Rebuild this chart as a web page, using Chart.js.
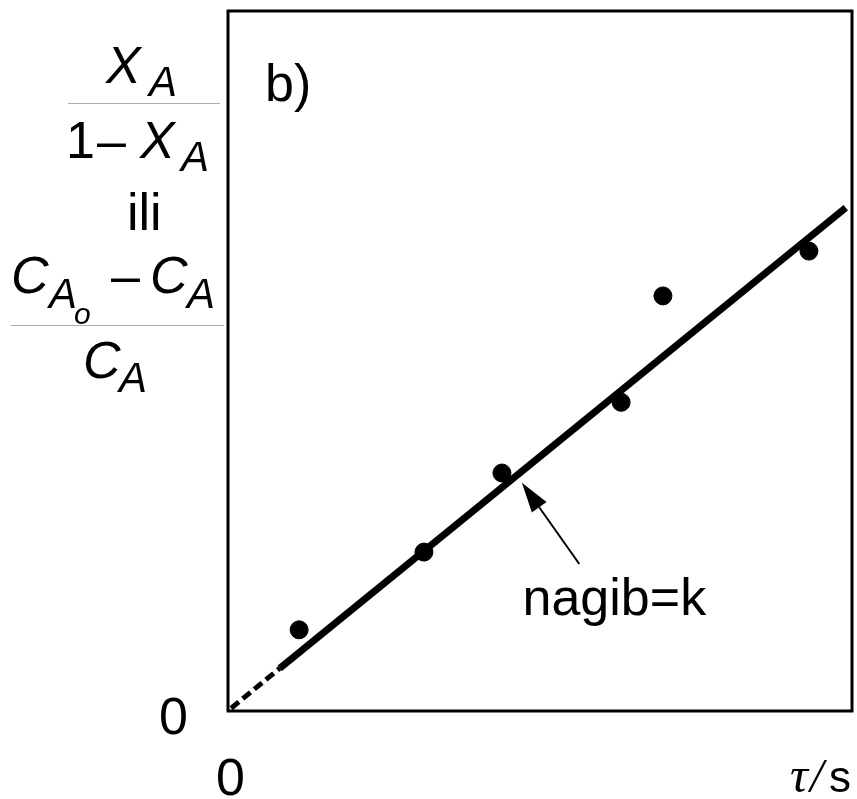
<!DOCTYPE html>
<html>
<head>
<meta charset="utf-8">
<script src="https://cdn.jsdelivr.net/npm/chart.js@4.4.1/dist/chart.umd.min.js"></script>
<style>
  html, body { margin: 0; padding: 0; background: #fff; overflow: hidden; }
  canvas { display: block; }
</style>
</head>
<body>
<canvas id="fitChart" width="857" height="799"></canvas>
<script>
  // measured points (tau, conversion function)
  const pointX = [1.14, 3.14, 4.39, 6.30, 6.97, 9.31];
  const pointY = [1.16, 2.27, 3.40, 4.41, 5.93, 6.57];

  // fitted line: dashed extrapolation to origin, solid over the data
  const dashX = [0.05, 0.83];
  const dashY = [0.04, 0.61];
  const fitX = [0.83, 9.90];
  const fitY = [0.61, 7.19];

  const SANS = '"Liberation Sans", Arial, sans-serif';
  const SERIF = '"Liberation Serif", "Times New Roman", serif';

  const toXY = (xs, ys) => xs.map((x, i) => ({ x, y: ys[i] }));

  function put(ctx, text, x, y, font) {
    ctx.font = font;
    ctx.fillText(text, x, y);
  }

  const labelsPlugin = {
    id: 'labels',
    afterDraw(chart) {
      const { ctx, chartArea: a, scales } = chart;
      ctx.save();

      // frame
      ctx.strokeStyle = '#000';
      ctx.lineWidth = 3;
      ctx.strokeRect(a.left, a.top, a.right - a.left, a.bottom - a.top);

      ctx.fillStyle = '#000';
      ctx.textBaseline = 'alphabetic';
      ctx.textAlign = 'left';

      const big = '52px ' + SANS;
      const bigI = 'italic 52px ' + SANS;
      const subI = 'italic 42px ' + SANS;
      const subsubI = 'italic 30px ' + SANS;

      // y-axis title, stacked fraction
      put(ctx, 'X', 106, 83, bigI);
      put(ctx, 'A', 149, 96, subI);
      put(ctx, '1', 66, 158, big);
      put(ctx, '\u2013', 97, 158, big);
      put(ctx, 'X', 140, 158, bigI);
      put(ctx, 'A', 181, 171, subI);
      put(ctx, 'ili', 127, 230, big);
      put(ctx, 'C', 11, 293, bigI);
      put(ctx, 'A', 49, 308, subI);
      put(ctx, 'o', 74, 324, subsubI);
      put(ctx, '\u2013', 111, 293, big);
      put(ctx, 'C', 150, 293, bigI);
      put(ctx, 'A', 187, 308, subI);
      put(ctx, 'C', 83, 378, bigI);
      put(ctx, 'A', 119, 392, subI);

      ctx.strokeStyle = '#aaa';
      ctx.lineWidth = 1;
      ctx.beginPath();
      ctx.moveTo(68, 103.5); ctx.lineTo(220, 103.5);
      ctx.moveTo(11, 325.5); ctx.lineTo(224, 325.5);
      ctx.stroke();

      // panel label
      put(ctx, 'b)', 265, 101, big);

      // axis zeros
      ctx.textAlign = 'right';
      put(ctx, '0', 188, 734, big);
      ctx.textAlign = 'left';
      put(ctx, '0', 216, 795, big);

      // x-axis title
      put(ctx, '\u03c4', 790, 792, 'italic 50px ' + SERIF);
      put(ctx, '/', 810, 792, 'italic 48px ' + SERIF);
      put(ctx, 's', 829, 792, '44px ' + SANS);

      // slope annotation with arrow
      const x = scales.x, y = scales.y;
      const tx = x.getPixelForValue(5.63), ty = y.getPixelForValue(2.10);
      const hx = x.getPixelForValue(4.71), hy = y.getPixelForValue(3.26);
      const ang = Math.atan2(hy - ty, hx - tx);
      const len = 30, half = 9;
      const bx = hx - len * Math.cos(ang), by = hy - len * Math.sin(ang);
      ctx.strokeStyle = '#000';
      ctx.lineWidth = 2;
      ctx.beginPath();
      ctx.moveTo(tx, ty); ctx.lineTo(bx, by);
      ctx.stroke();
      ctx.beginPath();
      ctx.moveTo(hx, hy);
      ctx.lineTo(bx + half * Math.sin(ang), by - half * Math.cos(ang));
      ctx.lineTo(bx - half * Math.sin(ang), by + half * Math.cos(ang));
      ctx.closePath();
      ctx.fill();

      put(ctx, 'nagib=k', x.getPixelForValue(4.72), y.getPixelForValue(1.37), big);

      ctx.restore();
    }
  };

  new Chart(document.getElementById('fitChart'), {
    type: 'scatter',
    data: {
      datasets: [
        {
          type: 'line',
          data: toXY(dashX, dashY),
          borderColor: '#000',
          borderWidth: 5,
          borderDash: [10, 5],
          pointRadius: 0,
          fill: false,
          clip: false,
        },
        {
          type: 'line',
          data: toXY(fitX, fitY),
          borderColor: '#000',
          borderWidth: 7,
          borderCapStyle: 'butt',
          pointRadius: 0,
          fill: false,
          clip: false,
        },
        {
          data: toXY(pointX, pointY),
          backgroundColor: '#000',
          borderColor: '#000',
          pointRadius: 9,
          pointHoverRadius: 9,
          clip: false,
        },
      ],
    },
    options: {
      responsive: false,
      animation: false,
      events: [],
      layout: { autoPadding: false, padding: { left: 228, top: 11, right: 5, bottom: 88 } },
      plugins: { legend: { display: false }, tooltip: { enabled: false } },
      scales: {
        x: { type: 'linear', min: 0, max: 10, display: false },
        y: { type: 'linear', min: 0, max: 10, display: false },
      },
    },
    plugins: [labelsPlugin],
  });
</script>
</body>
</html>
